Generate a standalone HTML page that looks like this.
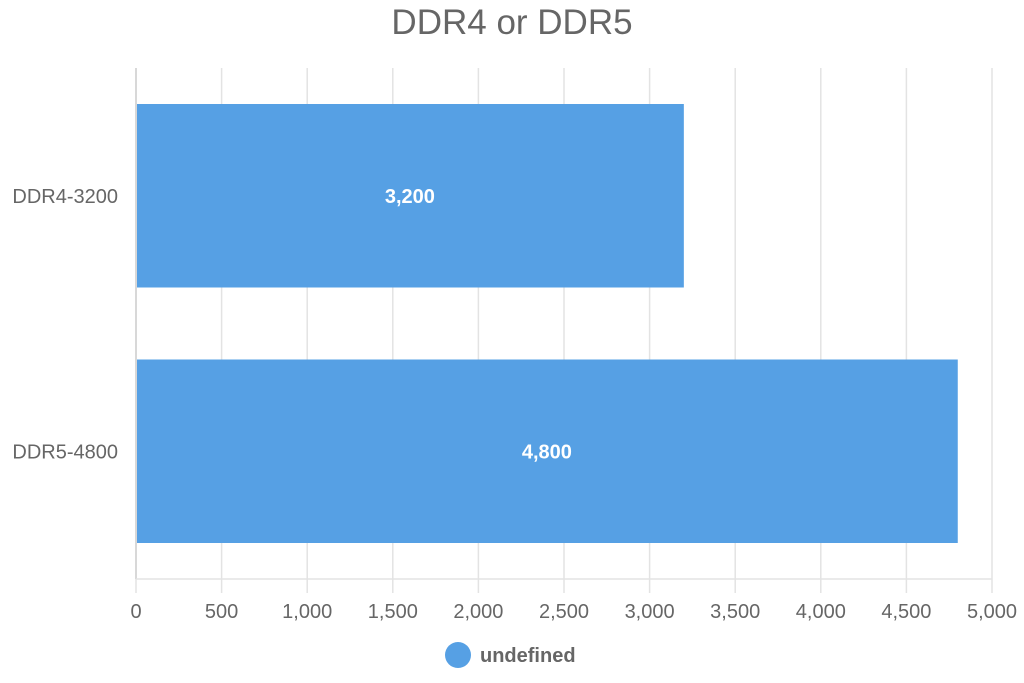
<!DOCTYPE html>
<html><head><meta charset="utf-8">
<style>
html,body{margin:0;padding:0;background:#fff;}
svg{display:block;font-family:"Liberation Sans",Arial,sans-serif;}
</style></head>
<body>
<svg id="chart" width="1024" height="683" viewBox="0 0 1024 683">
  <text x="512" y="34" text-anchor="middle" font-size="35" fill="#666">DDR4 or DDR5</text>
  <g id="grid"></g>
  <g id="bars"></g>
  <g id="xticks"></g>
  <g id="yticks"></g>
  <g>
    <circle cx="458" cy="655" r="13" fill="#56a0e4"></circle>
    <text x="480" y="662" font-size="20" font-weight="bold" fill="#666">undefined</text>
  </g>
</svg>
<script>
const categories = ["DDR4-3200", "DDR5-4800"];
const values = [3200, 4800];
const valueLabels = ["3,200", "4,800"];
const tickValues = [0, 500, 1000, 1500, 2000, 2500, 3000, 3500, 4000, 4500, 5000];
const tickLabels = ["0", "500", "1,000", "1,500", "2,000", "2,500", "3,000", "3,500", "4,000", "4,500", "5,000"];

const NS = "http://www.w3.org/2000/svg";
const x0 = 136, x1 = 992, yTop = 68, yBottom = 579, xMax = 5000;
const xs = v => x0 + (v / xMax) * (x1 - x0);
const band = (yBottom - yTop) / categories.length;
const pad = 36;
function mk(tag, attrs, parent) {
  const e = document.createElementNS(NS, tag);
  for (const k in attrs) e.setAttribute(k, attrs[k]);
  parent.appendChild(e);
  return e;
}
const grid = document.getElementById('grid');
const xt = document.getElementById('xticks');
tickValues.forEach((v, i) => {
  const x = xs(v);
  const gl = mk('line', {x1: x, x2: x, y1: yTop, y2: yBottom, stroke: i === 0 ? '#ccc' : '#e3e3e3', 'stroke-width': 1.5}, grid);
  
  
  const tk = mk('line', {x1: x, x2: x, y1: yBottom, y2: 593, stroke: '#e3e3e3', 'stroke-width': 1.5}, xt);
  
  
  const t = mk('text', {x: x, y: 618, 'text-anchor': 'middle', 'font-size': 20, fill: '#666'}, xt);
  t.textContent = tickLabels[i];
  
  
});
const base = mk('line', {x1: x0, x2: x1, y1: yBottom, y2: yBottom, stroke: '#e3e3e3', 'stroke-width': 1.5}, xt);



const bars = document.getElementById('bars');
const yt = document.getElementById('yticks');
categories.forEach((c, i) => {
  const y = yTop + i * band + pad;
  const h = band - 2 * pad;
  const r = mk('rect', {x: x0 + 1, y: y, width: xs(values[i]) - x0 - 1, height: h, fill: '#56a0e4'}, bars);
  
  
  const vl = mk('text', {x: (x0 + xs(values[i])) / 2, y: y + h / 2 + 7, 'text-anchor': 'middle', 'font-size': 20, 'font-weight': 'bold', fill: '#fff'}, bars);
  vl.textContent = valueLabels[i];
  
  
  const cl = mk('text', {x: 118, y: y + h / 2 + 7, 'text-anchor': 'end', 'font-size': 20, fill: '#666'}, yt);
  cl.textContent = c;
  
  
});
</script>
</body></html>
